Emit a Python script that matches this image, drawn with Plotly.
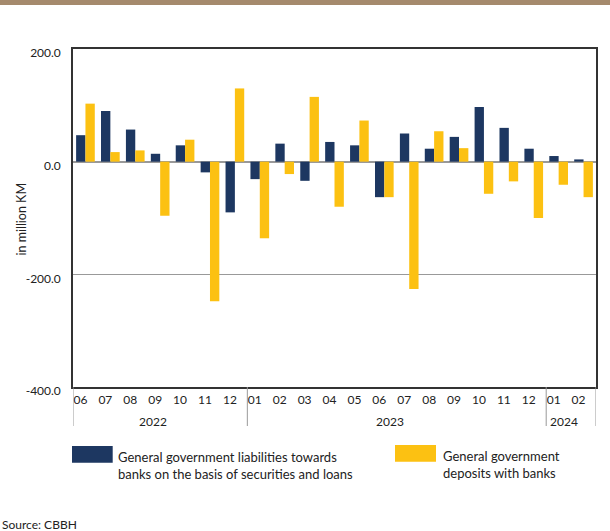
import plotly.graph_objects as go

years = ["2022"] * 7 + ["2023"] * 12 + ["2024"] * 2
months = ["06", "07", "08", "09", "10", "11", "12",
          "01", "02", "03", "04", "05", "06", "07", "08", "09", "10", "11", "12",
          "01", "02"]
liabilities = [47, 90, 57, 14, 29, -19, -90, -31, 32, -34, 35, 29, -63, 50, 23, 44, 97, 60, 23, 10, 4]
deposits = [103, 17, 20, -96, 39, -248, 130, -136, -22, 115, -80, 73, -63, -226, 54, 24, -57, -35, -100, -41, -63]
y_ticks = [-400, -200, 0, 200]
y_ticktext = ["-400.0", "-200.0", "0.0", "200.0"]

name_liab = "General government liabilities towards<br>banks on the basis of securities and loans"
name_dep = "General government<br>deposits with banks"
NAVY = "#1D3761"
YELLOW = "#FCC112"
FONT = "Lato"
TXT = "#222"

# plot area in pixels
L, R, T, B = 73, 14, 49, 144
W, H = 610, 531
PW, PH = W - L - R, H - T - B

def px_x(px):
    return (px - L) / PW

def px_y(py):
    return (H - B - py) / PH

xs = list(range(len(months)))

fig = go.Figure()
fig.add_trace(go.Bar(x=xs, y=liabilities, name=name_liab,
                     marker=dict(color=NAVY, line=dict(width=0)), showlegend=False))
fig.add_trace(go.Bar(x=xs, y=deposits, name=name_dep,
                     marker=dict(color=YELLOW, line=dict(width=0)), showlegend=False))

# year groups (from the data)
groups = []
for i, yv in enumerate(years):
    if not groups or groups[-1][0] != yv:
        groups.append([yv, i, i])
    else:
        groups[-1][2] = i

shapes = [
    dict(type="rect", xref="paper", yref="paper", x0=px_x(-5), x1=px_x(W + 5),
         y0=px_y(5), y1=px_y(0), fillcolor="#A58A6D", line=dict(width=0), layer="above"),
    dict(type="rect", xref="paper", yref="paper", x0=px_x(72), x1=px_x(112.7),
         y0=px_y(462.7), y1=px_y(446), fillcolor=NAVY, line=dict(width=0)),
    dict(type="rect", xref="paper", yref="paper", x0=px_x(395), x1=px_x(436),
         y0=px_y(461.7), y1=px_y(445), fillcolor=YELLOW, line=dict(width=0)),
]
annotations = [
    dict(text=name_liab, xref="paper", yref="paper", x=px_x(116), y=px_y(465.5),
         xanchor="left", yanchor="middle", showarrow=False, align="left",
         font=dict(size=13, color=TXT)),
    dict(text=name_dep, xref="paper", yref="paper", x=px_x(441), y=px_y(464.7),
         xanchor="left", yanchor="middle", showarrow=False, align="left",
         font=dict(size=13, color=TXT)),
    dict(text="Source: CBBH", xref="paper", yref="paper", x=px_x(0), y=px_y(524),
         xanchor="left", yanchor="middle", showarrow=False, font=dict(size=12, color=TXT)),
    dict(text="in million KM", xref="paper", yref="paper", x=px_x(20.5), y=px_y(219),
         xanchor="center", yanchor="middle", textangle=-90, showarrow=False,
         font=dict(size=12.5, color=TXT)),
]
for yv, i0, i1 in groups:
    annotations.append(dict(text=yv, xref="x", yref="paper", x=(i0 + i1) / 2, y=px_y(421),
                            xanchor="center", yanchor="middle", xshift=-7, showarrow=False,
                            font=dict(size=12, color=TXT)))
bounds = [groups[0][1] - 0.5] + [g[2] + 0.5 for g in groups]
for b in bounds:
    shapes.append(dict(type="line", xref="x", yref="paper", x0=b, x1=b,
                       y0=0, y1=px_y(426), line=dict(color="#999", width=1)))

fig.update_layout(
    width=W, height=H,
    margin=dict(l=L, r=R, t=T, b=B, autoexpand=False),
    paper_bgcolor="white", plot_bgcolor="white",
    barmode="group", bargap=0.25, bargroupgap=0,
    font=dict(family=FONT, size=12, color=TXT),
    shapes=shapes, annotations=annotations,
)

fig.update_xaxes(
    range=[-0.5, len(months) - 0.5], tickvals=xs, ticktext=months,
    showline=True, linecolor="#333", linewidth=1.5, mirror=True,
    showgrid=False, zeroline=False, ticks="",
    tickfont=dict(family=FONT, size=12, color=TXT),
    ticklabelshift=-5, ticklabelstandoff=1,
)
fig.update_yaxes(
    range=[-400, 200], tickvals=y_ticks, ticktext=y_ticktext,
    showline=True, linecolor="#333", linewidth=1.5, mirror=True,
    showgrid=True, gridcolor="#999", gridwidth=1,
    zeroline=True, zerolinecolor="#999", zerolinewidth=2,
    ticks="", tickfont=dict(family=FONT, size=12, color=TXT),
    ticklabelstandoff=8, ticklabelshift=4,
)

fig.write_html("out.html", config={"displayModeBar": False},
               post_script="document.body.style.margin='0px';")
